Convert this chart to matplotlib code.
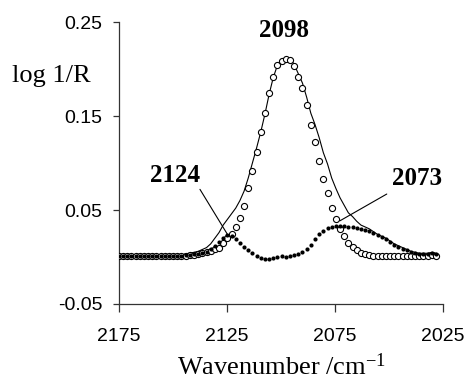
import numpy as np
import matplotlib
matplotlib.use("Agg")
import matplotlib.pyplot as plt

plt.rcParams['axes.unicode_minus'] = False
plt.rcParams['mathtext.fontset'] = 'custom'
plt.rcParams['mathtext.rm'] = 'Liberation Serif'
plt.rcParams['mathtext.it'] = 'Liberation Serif:italic'

# wavenumber grid (cm-1), spectra sampled every ~1.93 cm-1
wavenumber = 2175 - 1.93 * np.arange(77)

# open circles
band_2098 = [0.001] * 16 + [
    0.0015, 0.002, 0.002, 0.003, 0.004, 0.005, 0.006, 0.008, 0.010, 0.015,
    0.020, 0.025, 0.032, 0.042, 0.054, 0.073, 0.092, 0.112, 0.133, 0.153,
    0.175, 0.192, 0.204, 0.209, 0.211, 0.210, 0.203, 0.192, 0.180, 0.162,
    0.140, 0.122, 0.102, 0.083, 0.068, 0.052, 0.040, 0.030, 0.022, 0.015,
    0.011, 0.007, 0.004, 0.003, 0.002,
    0.001, 0.001, 0.001, 0.001, 0.001, 0.001, 0.001, 0.001, 0.001, 0.001,
    0.001, 0.001, 0.0015, 0.0015, 0.002, 0.0015]

# filled dots
bands_2124_2073 = [0.001] * 16 + [
    0.002, 0.002, 0.003, 0.003, 0.004, 0.005, 0.008, 0.012, 0.016, 0.020,
    0.023, 0.022, 0.019, 0.015, 0.011, 0.007, 0.004, 0.001, -0.001, -0.002,
    -0.002, -0.001, 0.000, 0.001, 0.000, 0.001, 0.002, 0.003, 0.005, 0.008,
    0.013, 0.019, 0.025, 0.028, 0.031, 0.032, 0.033, 0.033, 0.033, 0.032,
    0.032, 0.031, 0.030, 0.029, 0.028, 0.026, 0.023, 0.021, 0.019, 0.016,
    0.013, 0.011, 0.009, 0.007, 0.005, 0.004, 0.003, 0.003, 0.003, 0.004,
    0.003]

# solid line (total)
total = [0.002] * 16 + [
    0.0035, 0.004, 0.005, 0.006, 0.008, 0.010, 0.014, 0.020, 0.026, 0.034,
    0.040, 0.046, 0.052, 0.060, 0.070, 0.084, 0.100, 0.116, 0.133, 0.152,
    0.173, 0.191, 0.204, 0.210, 0.211, 0.211, 0.205, 0.195, 0.185, 0.170,
    0.153, 0.141, 0.127, 0.111, 0.099, 0.084, 0.073, 0.063, 0.055, 0.047,
    0.043, 0.038, 0.034, 0.032, 0.030, 0.027, 0.024, 0.022, 0.020, 0.017,
    0.014, 0.012, 0.010, 0.008, 0.006, 0.005, 0.004, 0.004, 0.004, 0.005,
    0.004]

fig = plt.figure(figsize=(4.68, 3.80), dpi=100)
ax = fig.add_axes([0.254, 0.2, 0.693, 0.742])

ax.plot(wavenumber, total, color='black', lw=0.8, zorder=2)
ax.plot(wavenumber, band_2098, 'o', mfc='white', mec='black', ms=4.4, mew=0.8, zorder=3)
ax.plot(wavenumber, bands_2124_2073, 'o', color='black', ms=3, mew=0, zorder=4)

ax.set_xlim(2175, 2025)
ax.set_ylim(-0.05, 0.25)
ax.set_xticks([2175, 2125, 2075, 2025])
ax.set_yticks([-0.05, 0.05, 0.15, 0.25])
ax.set_yticklabels(['-0.05', '0.05', '0.15', '0.25'])

for s in ['top', 'right']:
    ax.spines[s].set_visible(False)
for s in ['left', 'bottom']:
    ax.spines[s].set_color('#333333')
    ax.spines[s].set_linewidth(0.9)

for lab in ax.get_xticklabels() + ax.get_yticklabels():
    lab.set_fontfamily('Liberation Sans')
    lab.set_fontsize(14)
ax.tick_params(axis='y', direction='out', length=4, width=0.9, pad=8, colors='#333333', labelcolor='black')
ax.tick_params(axis='x', direction='out', length=6, width=0.9, pad=11, colors='#333333', labelcolor='black')

ax.set_xlabel('Wavenumber /cm$^{\\mathrm{-1}}$', fontfamily='Liberation Serif', fontsize=19, labelpad=6)

fig.text(12 / 468, 1 - 82 / 380, 'log 1/R', fontfamily='Liberation Serif', fontsize=19, va='baseline', ha='left')

bold = dict(fontfamily='Liberation Serif', fontweight='bold', fontsize=18, ha='center', va='center')
ax.text(2098.6, 0.2415, '2098', **bold)
ax.text(2149.1, 0.087, '2124', **bold)
ax.text(2037.0, 0.083, '2073', **bold)
# leader lines
ax.annotate('', xy=(2124.5, 0.023), xytext=(2137.5, 0.072),
            arrowprops=dict(arrowstyle='-', color='black', lw=0.8, shrinkA=0, shrinkB=0))
ax.annotate('', xy=(2072.7, 0.0386), xytext=(2051.1, 0.067),
            arrowprops=dict(arrowstyle='-', color='black', lw=0.8, shrinkA=0, shrinkB=0))

fig.savefig('out.png', dpi=100)
